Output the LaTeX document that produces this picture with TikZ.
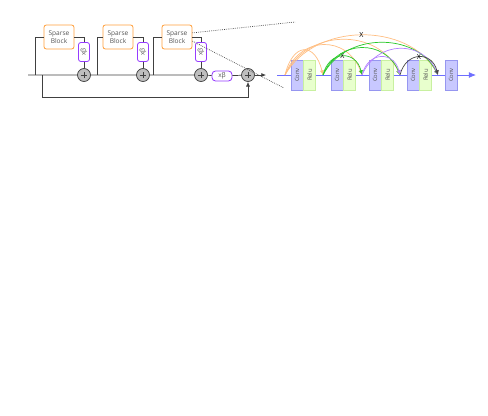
\documentclass[tikz,border=0pt]{standalone}
\usepackage{fontspec}
\setmainfont{Open Sans}
\usepackage{tikz}
\usetikzlibrary{positioning, arrows.meta}
\definecolor{SBOrange}{RGB}{255,160,60}
\definecolor{SBText}{RGB}{85,85,85}
\definecolor{SBWire}{RGB}{64,64,64}
\definecolor{SBPurple}{RGB}{150,60,255}
\definecolor{AddFill}{RGB}{190,190,190}
\definecolor{NetBlue}{RGB}{110,110,255}
\definecolor{ConvFill}{RGB}{200,200,255}
\definecolor{ConvEdge}{RGB}{150,150,240}
\definecolor{ReluFill}{RGB}{232,255,205}
\definecolor{ReluEdge}{RGB}{200,240,160}
\definecolor{ArcOrange}{RGB}{255,190,130}
\definecolor{ArcGreen}{RGB}{40,200,40}
\definecolor{ArcPurple}{RGB}{180,130,255}
\definecolor{ArcDark}{RGB}{70,70,70}

\begin{document}
\begin{tikzpicture}[x=0.03cm, y=-0.03cm,
    sparse/.style={rectangle, rounded corners=2pt, draw=SBOrange, fill=white,
                   line width=0.7pt, minimum width=0.9cm, minimum height=0.72cm,
                   inner sep=0pt, align=center, text=SBText,
                   font=\fontsize{5.6}{6.4}\selectfont},
    betav/.style={rectangle, rounded corners=2pt, draw=SBPurple, fill=white,
                  line width=0.7pt, minimum width=0.33cm, minimum height=0.57cm,
                  inner sep=0pt, text=SBText, font=\fontsize{5.5}{6}\selectfont},
    betah/.style={rectangle, rounded corners=3pt, draw=SBPurple, fill=white,
                  line width=0.7pt, minimum width=0.6cm, minimum height=0.3cm,
                  inner sep=0pt, text=SBText, font=\fontsize{5.5}{6}\selectfont},
    addop/.style={circle, draw=SBWire, fill=AddFill, line width=0.6pt,
                  minimum size=0.39cm, inner sep=0pt,
                  path picture={\draw[SBWire, line width=0.6pt]
                    ([xshift=-2.6pt]path picture bounding box.center) --
                    ([xshift=2.6pt]path picture bounding box.center)
                    ([yshift=-2.6pt]path picture bounding box.center) --
                    ([yshift=2.6pt]path picture bounding box.center);}},
    wire/.style={draw=SBWire, line width=0.6pt},
    zoomline/.style={draw=SBWire, densely dotted, line width=0.6pt},
    conv/.style={rectangle, draw=ConvEdge, fill=ConvFill, line width=0.6pt,
                 minimum width=0.36cm, minimum height=0.9cm, inner sep=0pt,
                 text=SBText, font=\fontsize{5}{5}\selectfont},
    relu/.style={rectangle, draw=ReluEdge, fill=ReluFill, line width=0.6pt,
                 minimum width=0.36cm, minimum height=0.9cm, inner sep=0pt,
                 text=SBText, font=\fontsize{5}{5}\selectfont},
    net/.style={draw=NetBlue, line width=0.7pt},
    arcO/.style={draw=ArcOrange, line width=0.6pt, -{Latex[length=4pt,width=3.5pt]}},
    arcG/.style={draw=ArcGreen, line width=0.6pt, -{Latex[length=4pt,width=3.5pt]}},
    arcP/.style={draw=ArcPurple, line width=0.6pt, -{Latex[length=4pt,width=3.5pt]}},
    arcD/.style={draw=ArcDark, line width=0.6pt, -{Latex[length=4pt,width=3.5pt]}},
    xmark/.style={font=\fontsize{6}{6}\selectfont, text=black, inner sep=0pt}
  ]
  \useasboundingbox (0,0) rectangle (488,415);

  % Sparse path with three blocks
  \coordinate (start) at (28,75);
  \coordinate (in1) at (35,75);
  \coordinate (byp) at (42,75);
  \coordinate (in2) at (97,75);
  \coordinate (in3) at (153,75);
  \coordinate (out) at (266,75);

  \node[sparse] (box1) at (59,37) {Sparse\\Block};
  \node[betav] (sc1) at (84,52) {\rotatebox{90}{xβ}};
  \node[addop] (add1) at (84,75) {};

  \node[sparse] (box2) at (118,37) {Sparse\\Block};
  \node[betav] (sc2) at (143,52) {\rotatebox{90}{xβ}};
  \node[addop] (add2) at (143,75) {};

  \node[sparse] (box3) at (177,37) {Sparse\\Block};
  \node[betav] (sc3) at (201,52) {\rotatebox{90}{xβ}};
  \node[addop] (add3) at (201,75) {};

  \node[betah] (sch) at (222,76) {xβ};
  \node[addop] (add4) at (248,75) {};

  \draw[wire] (start) -- (add1) -- (add2) -- (add3) -- (sch) -- (add4);
  \draw[wire, -{Latex[length=4pt,width=3.5pt]}] (add4) -- (out);

  \draw[wire] (in1) |- (box1.west);
  \draw[wire] (box1.east) -| (sc1.north);
  \draw[wire] (sc1) -- (add1);
  \draw[wire] (in2) |- (box2.west);
  \draw[wire] (box2.east) -| (sc2.north);
  \draw[wire] (sc2) -- (add2);
  \draw[wire] (in3) |- (box3.west);
  \draw[wire] (box3.east) -| (sc3.north);
  \draw[wire] (sc3) -- (add3);
  \draw[wire, -{Latex[length=4pt,width=3.5pt]}] (byp) -- ++(0,22) -| (add4);

  % zoom lines
  \coordinate (zt) at (295,22);
  \coordinate (zb) at (284,88);
  \draw[zoomline] (box3.15) -- (zt);
  \draw[zoomline] (box3.-15) -- (zb);

  % Inside a sparse block
  \coordinate (r0) at (277,75);
  \coordinate (rout) at (476,75);
  \node[conv] (conv1) at (297,75) {\rotatebox{90}{Conv}};
  \node[relu, right=0pt of conv1] (relu1) {\rotatebox{90}{Relu}};
  \node[conv] (conv2) at (337,75) {\rotatebox{90}{Conv}};
  \node[relu, right=0pt of conv2] (relu2) {\rotatebox{90}{Relu}};
  \node[conv] (conv3) at (375,75) {\rotatebox{90}{Conv}};
  \node[relu, right=0pt of conv3] (relu3) {\rotatebox{90}{Relu}};
  \node[conv] (conv4) at (413,75) {\rotatebox{90}{Conv}};
  \node[relu, right=0pt of conv4] (relu4) {\rotatebox{90}{Relu}};
  \node[conv] (conv5) at (451,75) {\rotatebox{90}{Conv}};

  \draw[net] (r0) -- (conv1);
  \draw[net] (relu1) -- (conv2);
  \draw[net] (relu2) -- (conv3);
  \draw[net] (relu3) -- (conv4);
  \draw[net] (relu4) -- (conv5);
  \draw[net, -{Latex[length=6pt,width=5pt]}] (conv5) -- (rout);

  \coordinate (j0) at (285,75);
  \coordinate (j1) at (323,75);
  \coordinate (j2) at (362,75);
  \coordinate (j3) at (400,75);
  \coordinate (j4) at (438,75);

  \draw[arcO] (j0) .. controls +(8,-33) and +(-8,-33) .. (j1);
  \draw[arcO] (j0) .. controls +(15,-40) and +(-15,-40) .. (j2);
  \draw[arcO] (j0) .. controls +(22,-47) and +(-22,-47) .. (j3);
  \draw[arcO] (j0) .. controls +(30,-53) and +(-30,-53) .. (j4)
        node[xmark, pos=0.5] {X};
  \draw[arcG] (j1) .. controls +(6,-25) and +(-6,-25) .. (j2)
        node[xmark, pos=0.5] {X};
  \draw[arcG] (j1) .. controls +(15,-36) and +(-15,-36) .. (j3);
  \draw[arcG] (j1) .. controls +(22,-43) and +(-22,-43) .. (j4);
  \draw[arcP] (j2) .. controls +(6,-24) and +(-6,-24) .. (j3);
  \draw[arcP] (j2) .. controls +(15,-35) and +(-15,-35) .. (j4);
  \draw[arcD] (j3) .. controls +(6,-24) and +(-6,-24) .. (j4)
        node[xmark, pos=0.5] {X};
\end{tikzpicture}
\end{document}
